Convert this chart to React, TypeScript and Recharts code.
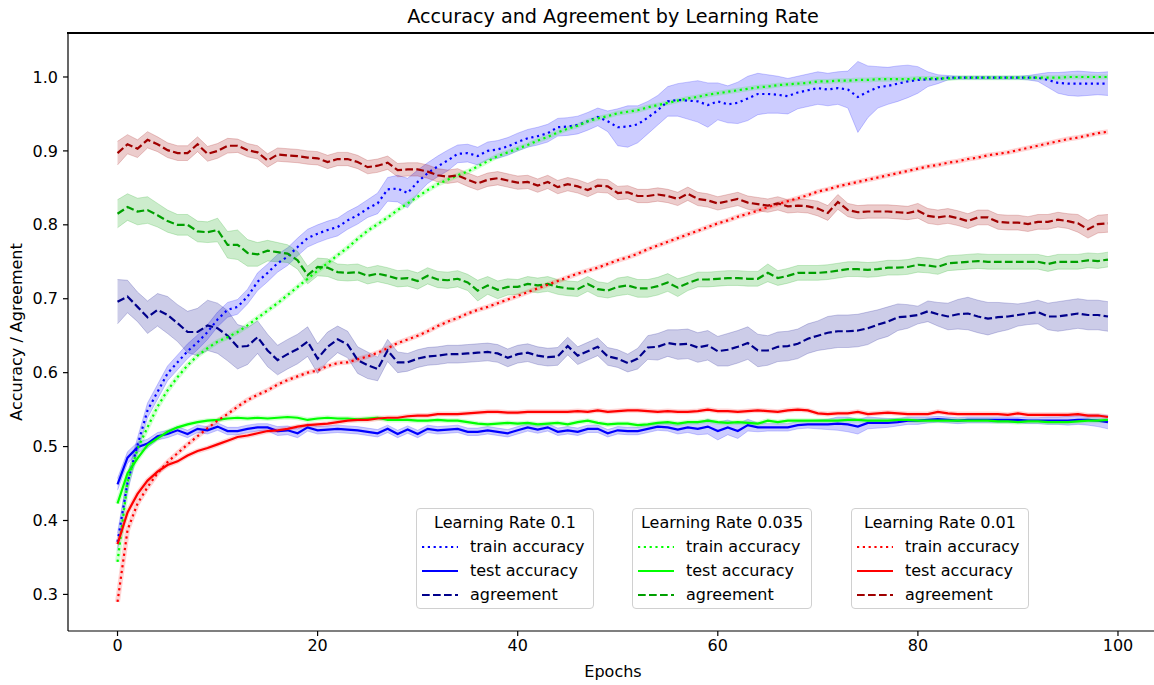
import React from "react";
import { ComposedChart, Line, Area, XAxis, YAxis } from "recharts";

// epochs 0..99 (x categories)
const epochs = Array.from({ length: 100 }, (_, i) => i);
const xTicks = [0, 20, 40, 60, 80, 100];
const yTicks = [0.3, 0.4, 0.5, 0.6, 0.7, 0.8, 0.9, 1.0];

// ---- Learning rate 0.1 ----
const lr01Train = [
  0.371, 0.451, 0.502, 0.549, 0.574, 0.599, 0.614, 0.629, 0.641, 0.655,
  0.672, 0.685, 0.689, 0.703, 0.723, 0.735, 0.748, 0.757, 0.770, 0.782,
  0.788, 0.793, 0.797, 0.806, 0.813, 0.822, 0.829, 0.848, 0.849, 0.843,
  0.858, 0.870, 0.879, 0.887, 0.896, 0.897, 0.893, 0.900, 0.902, 0.906,
  0.912, 0.917, 0.920, 0.924, 0.932, 0.933, 0.935, 0.940, 0.946, 0.940,
  0.932, 0.933, 0.936, 0.945, 0.955, 0.967, 0.969, 0.968, 0.967, 0.962,
  0.967, 0.963, 0.965, 0.971, 0.977, 0.977, 0.976, 0.974, 0.979, 0.982,
  0.985, 0.983, 0.985, 0.983, 0.973, 0.980, 0.986, 0.988, 0.991, 0.994,
  0.996, 0.997, 0.997, 0.999, 0.999, 0.999, 0.999, 0.999, 0.999, 0.999,
  0.999, 0.999, 0.999, 0.996, 0.992, 0.991, 0.991, 0.991, 0.991, 0.991,
];
const lr01TrainSpread = [
  0.012, 0.012, 0.010, 0.010, 0.010, 0.010, 0.010, 0.010, 0.010, 0.010,
  0.010, 0.010, 0.010, 0.010, 0.012, 0.012, 0.012, 0.012, 0.012, 0.012,
  0.012, 0.012, 0.012, 0.012, 0.012, 0.012, 0.014, 0.016, 0.018, 0.020,
  0.016, 0.014, 0.014, 0.014, 0.012, 0.012, 0.012, 0.012, 0.012, 0.012,
  0.012, 0.012, 0.012, 0.012, 0.012, 0.012, 0.012, 0.012, 0.012, 0.014,
  0.025, 0.028, 0.025, 0.022, 0.020, 0.020, 0.022, 0.025, 0.028, 0.030,
  0.025, 0.025, 0.028, 0.030, 0.028, 0.026, 0.025, 0.024, 0.022, 0.022,
  0.022, 0.022, 0.022, 0.025, 0.048, 0.035, 0.028, 0.025, 0.024, 0.022,
  0.018, 0.010, 0.006, 0.003, 0.002, 0.002, 0.002, 0.002, 0.002, 0.002,
  0.002, 0.003, 0.005, 0.010, 0.014, 0.016, 0.017, 0.016, 0.015, 0.016,
];
const lr01Test = [
  0.449, 0.485, 0.499, 0.504, 0.514, 0.517, 0.522, 0.517, 0.524, 0.522,
  0.527, 0.521, 0.521, 0.524, 0.526, 0.526, 0.521, 0.522, 0.518, 0.526,
  0.522, 0.523, 0.524, 0.523, 0.522, 0.520, 0.518, 0.524, 0.517, 0.523,
  0.517, 0.524, 0.522, 0.523, 0.524, 0.520, 0.520, 0.522, 0.520, 0.518,
  0.522, 0.526, 0.523, 0.526, 0.520, 0.522, 0.520, 0.524, 0.524, 0.518,
  0.522, 0.521, 0.521, 0.524, 0.527, 0.526, 0.523, 0.526, 0.524, 0.527,
  0.521, 0.526, 0.521, 0.529, 0.526, 0.526, 0.526, 0.526, 0.529, 0.530,
  0.530, 0.530, 0.531, 0.530, 0.527, 0.532, 0.532, 0.532, 0.533, 0.535,
  0.535, 0.536, 0.537, 0.536, 0.535, 0.536, 0.536, 0.536, 0.536, 0.536,
  0.536, 0.535, 0.535, 0.535, 0.535, 0.535, 0.536, 0.536, 0.535, 0.533,
];
const lr01TestSpread = [
  0.008, 0.008, 0.007, 0.006, 0.005, 0.005, 0.005, 0.005, 0.005, 0.005,
  0.005, 0.005, 0.005, 0.005, 0.005, 0.005, 0.006, 0.006, 0.006, 0.005,
  0.005, 0.005, 0.005, 0.005, 0.005, 0.005, 0.005, 0.005, 0.005, 0.005,
  0.005, 0.005, 0.005, 0.005, 0.005, 0.005, 0.005, 0.005, 0.005, 0.005,
  0.005, 0.005, 0.005, 0.005, 0.005, 0.005, 0.005, 0.005, 0.005, 0.005,
  0.005, 0.005, 0.005, 0.005, 0.005, 0.005, 0.006, 0.007, 0.008, 0.010,
  0.012, 0.010, 0.010, 0.008, 0.006, 0.005, 0.005, 0.005, 0.005, 0.005,
  0.006, 0.007, 0.009, 0.010, 0.010, 0.008, 0.007, 0.006, 0.005, 0.005,
  0.005, 0.004, 0.004, 0.004, 0.004, 0.004, 0.004, 0.004, 0.004, 0.004,
  0.004, 0.004, 0.004, 0.005, 0.005, 0.006, 0.006, 0.007, 0.008, 0.009,
];
const lr01Agree = [
  0.696, 0.703, 0.689, 0.675, 0.685, 0.678, 0.667, 0.655, 0.655, 0.664,
  0.660, 0.650, 0.635, 0.636, 0.648, 0.630, 0.617, 0.625, 0.632, 0.642,
  0.619, 0.635, 0.645, 0.638, 0.617, 0.610, 0.605, 0.630, 0.614, 0.614,
  0.619, 0.622, 0.623, 0.625, 0.625, 0.626, 0.627, 0.628, 0.626, 0.620,
  0.625, 0.627, 0.623, 0.621, 0.622, 0.636, 0.623, 0.629, 0.635, 0.622,
  0.619, 0.613, 0.619, 0.634, 0.635, 0.640, 0.638, 0.639, 0.634, 0.637,
  0.629, 0.631, 0.635, 0.640, 0.630, 0.630, 0.635, 0.636, 0.639, 0.646,
  0.650, 0.654, 0.656, 0.656, 0.657, 0.660, 0.665, 0.669, 0.675, 0.676,
  0.678, 0.683, 0.679, 0.676, 0.679, 0.680, 0.676, 0.673, 0.675, 0.676,
  0.678, 0.680, 0.682, 0.676, 0.676, 0.678, 0.680, 0.678, 0.678, 0.676,
];
const lr01AgreeSpread = [
  0.030, 0.022, 0.020, 0.022, 0.022, 0.025, 0.025, 0.028, 0.032, 0.034,
  0.034, 0.034, 0.030, 0.025, 0.022, 0.022, 0.020, 0.020, 0.020, 0.020,
  0.020, 0.020, 0.018, 0.018, 0.018, 0.018, 0.016, 0.015, 0.014, 0.012,
  0.012, 0.012, 0.012, 0.012, 0.012, 0.012, 0.012, 0.012, 0.012, 0.012,
  0.012, 0.012, 0.012, 0.012, 0.012, 0.012, 0.012, 0.012, 0.012, 0.012,
  0.012, 0.012, 0.014, 0.016, 0.018, 0.018, 0.020, 0.020, 0.020, 0.020,
  0.020, 0.022, 0.022, 0.022, 0.022, 0.020, 0.020, 0.020, 0.020, 0.020,
  0.020, 0.022, 0.022, 0.022, 0.022, 0.022, 0.020, 0.020, 0.018, 0.016,
  0.012, 0.014, 0.016, 0.018, 0.020, 0.022, 0.022, 0.022, 0.020, 0.018,
  0.015, 0.015, 0.016, 0.018, 0.020, 0.020, 0.020, 0.020, 0.020, 0.020,
];

// ---- Learning rate 0.035 ----
const lr035Train = [
  0.344, 0.452, 0.497, 0.526, 0.554, 0.576, 0.594, 0.610, 0.623, 0.633,
  0.642, 0.648, 0.655, 0.664, 0.674, 0.684, 0.694, 0.705, 0.716, 0.727,
  0.738, 0.748, 0.759, 0.769, 0.781, 0.792, 0.801, 0.810, 0.820, 0.829,
  0.838, 0.847, 0.855, 0.861, 0.867, 0.872, 0.879, 0.886, 0.893, 0.898,
  0.903, 0.908, 0.914, 0.919, 0.925, 0.930, 0.934, 0.940, 0.944, 0.947,
  0.951, 0.953, 0.955, 0.959, 0.962, 0.965, 0.968, 0.971, 0.973, 0.976,
  0.978, 0.980, 0.982, 0.984, 0.986, 0.987, 0.989, 0.990, 0.991, 0.992,
  0.994, 0.994, 0.995, 0.995, 0.996, 0.996, 0.997, 0.997, 0.997, 0.997,
  0.998, 0.998, 0.998, 0.998, 0.999, 0.999, 0.999, 0.999, 0.999, 0.999,
  0.999, 0.999, 0.999, 0.999, 0.999, 1.000, 1.000, 1.000, 1.000, 1.000,
];
const lr035Test = [
  0.423, 0.464, 0.484, 0.502, 0.511, 0.520, 0.526, 0.530, 0.533, 0.535,
  0.536, 0.538, 0.539, 0.538, 0.539, 0.538, 0.539, 0.540, 0.539, 0.536,
  0.538, 0.539, 0.538, 0.538, 0.537, 0.538, 0.539, 0.536, 0.536, 0.536,
  0.535, 0.535, 0.536, 0.535, 0.535, 0.533, 0.531, 0.530, 0.531, 0.532,
  0.531, 0.532, 0.530, 0.531, 0.532, 0.530, 0.533, 0.535, 0.532, 0.530,
  0.531, 0.531, 0.529, 0.530, 0.532, 0.533, 0.531, 0.533, 0.533, 0.535,
  0.533, 0.532, 0.533, 0.532, 0.531, 0.535, 0.533, 0.535, 0.535, 0.535,
  0.535, 0.535, 0.535, 0.536, 0.536, 0.535, 0.535, 0.535, 0.536, 0.536,
  0.535, 0.535, 0.535, 0.535, 0.535, 0.535, 0.535, 0.535, 0.534, 0.534,
  0.533, 0.534, 0.534, 0.533, 0.533, 0.533, 0.534, 0.535, 0.535, 0.536,
];
const lr035Agree = [
  0.815, 0.824, 0.818, 0.820, 0.813, 0.805, 0.800, 0.800, 0.791, 0.790,
  0.793, 0.773, 0.773, 0.762, 0.760, 0.765, 0.763, 0.761, 0.752, 0.732,
  0.743, 0.742, 0.736, 0.735, 0.736, 0.731, 0.734, 0.731, 0.727, 0.728,
  0.724, 0.731, 0.726, 0.725, 0.727, 0.722, 0.711, 0.718, 0.712, 0.716,
  0.716, 0.720, 0.718, 0.720, 0.716, 0.714, 0.713, 0.720, 0.713, 0.711,
  0.716, 0.718, 0.714, 0.714, 0.717, 0.722, 0.715, 0.721, 0.726, 0.726,
  0.727, 0.728, 0.728, 0.727, 0.727, 0.735, 0.728, 0.731, 0.735, 0.735,
  0.735, 0.736, 0.738, 0.740, 0.740, 0.739, 0.740, 0.742, 0.742, 0.743,
  0.746, 0.745, 0.743, 0.748, 0.749, 0.750, 0.751, 0.750, 0.750, 0.750,
  0.750, 0.750, 0.750, 0.747, 0.750, 0.750, 0.750, 0.752, 0.751, 0.753,
];
const lr035AgreeSpread = [
  0.019, 0.018, 0.018, 0.018, 0.016, 0.015, 0.014, 0.014, 0.014, 0.014,
  0.016, 0.018, 0.020, 0.018, 0.016, 0.014, 0.013, 0.012, 0.012, 0.012,
  0.012, 0.012, 0.011, 0.011, 0.011, 0.011, 0.011, 0.011, 0.011, 0.011,
  0.011, 0.011, 0.011, 0.011, 0.011, 0.011, 0.014, 0.012, 0.012, 0.011,
  0.010, 0.010, 0.010, 0.010, 0.010, 0.010, 0.010, 0.010, 0.010, 0.010,
  0.012, 0.012, 0.012, 0.012, 0.012, 0.012, 0.012, 0.010, 0.010, 0.010,
  0.010, 0.010, 0.010, 0.010, 0.010, 0.012, 0.010, 0.010, 0.010, 0.010,
  0.010, 0.010, 0.010, 0.010, 0.010, 0.010, 0.010, 0.010, 0.010, 0.010,
  0.010, 0.010, 0.010, 0.010, 0.010, 0.010, 0.010, 0.010, 0.010, 0.010,
  0.010, 0.010, 0.010, 0.010, 0.010, 0.010, 0.010, 0.010, 0.010, 0.010,
];

// ---- Learning rate 0.01 ----
const lr001Train = [
  0.290, 0.387, 0.423, 0.445, 0.464, 0.479, 0.491, 0.503, 0.514, 0.525,
  0.535, 0.544, 0.554, 0.563, 0.570, 0.576, 0.584, 0.590, 0.595, 0.600,
  0.603, 0.609, 0.613, 0.614, 0.618, 0.622, 0.627, 0.633, 0.640, 0.645,
  0.650, 0.656, 0.663, 0.669, 0.674, 0.680, 0.685, 0.689, 0.694, 0.699,
  0.704, 0.709, 0.714, 0.719, 0.724, 0.729, 0.734, 0.738, 0.742, 0.747,
  0.752, 0.756, 0.761, 0.767, 0.772, 0.777, 0.782, 0.787, 0.792, 0.797,
  0.802, 0.806, 0.811, 0.815, 0.819, 0.824, 0.828, 0.832, 0.836, 0.840,
  0.845, 0.848, 0.852, 0.855, 0.858, 0.861, 0.864, 0.867, 0.870, 0.873,
  0.876, 0.879, 0.881, 0.884, 0.886, 0.889, 0.891, 0.894, 0.896, 0.898,
  0.901, 0.904, 0.907, 0.910, 0.913, 0.916, 0.918, 0.921, 0.924, 0.926,
];
const lr001Test = [
  0.368, 0.411, 0.436, 0.454, 0.466, 0.475, 0.480, 0.488, 0.494, 0.498,
  0.503, 0.508, 0.513, 0.515, 0.518, 0.521, 0.522, 0.524, 0.527, 0.529,
  0.530, 0.531, 0.533, 0.535, 0.536, 0.536, 0.538, 0.539, 0.539, 0.541,
  0.542, 0.542, 0.544, 0.544, 0.544, 0.545, 0.546, 0.547, 0.547, 0.546,
  0.546, 0.547, 0.547, 0.547, 0.547, 0.547, 0.548, 0.547, 0.549, 0.547,
  0.548, 0.549, 0.549, 0.548, 0.547, 0.548, 0.547, 0.547, 0.548, 0.550,
  0.548, 0.548, 0.547, 0.548, 0.549, 0.548, 0.547, 0.549, 0.550, 0.549,
  0.545, 0.544, 0.545, 0.545, 0.547, 0.544, 0.545, 0.546, 0.545, 0.544,
  0.544, 0.544, 0.547, 0.545, 0.544, 0.544, 0.544, 0.544, 0.544, 0.543,
  0.545, 0.543, 0.543, 0.543, 0.543, 0.543, 0.544, 0.542, 0.542, 0.540,
];
const lr001Agree = [
  0.897, 0.909, 0.903, 0.915, 0.909, 0.901, 0.897, 0.897, 0.909, 0.896,
  0.900, 0.907, 0.907, 0.901, 0.898, 0.887, 0.895, 0.894, 0.893, 0.891,
  0.890, 0.885, 0.889, 0.889, 0.885, 0.878, 0.880, 0.884, 0.874, 0.875,
  0.875, 0.872, 0.867, 0.865, 0.867, 0.861, 0.856, 0.861, 0.863, 0.860,
  0.857, 0.858, 0.853, 0.858, 0.851, 0.855, 0.852, 0.847, 0.853, 0.852,
  0.843, 0.844, 0.839, 0.839, 0.841, 0.839, 0.835, 0.842, 0.835, 0.833,
  0.829, 0.832, 0.835, 0.830, 0.828, 0.826, 0.829, 0.825, 0.826, 0.825,
  0.822, 0.816, 0.831, 0.820, 0.817, 0.818, 0.818, 0.818, 0.817, 0.816,
  0.819, 0.812, 0.810, 0.812, 0.809, 0.805, 0.810, 0.810, 0.804, 0.803,
  0.803, 0.801, 0.804, 0.804, 0.807, 0.805, 0.802, 0.794, 0.801, 0.802,
];
const lr001AgreeSpread = [
  0.016, 0.013, 0.012, 0.011, 0.010, 0.010, 0.010, 0.010, 0.010, 0.010,
  0.010, 0.010, 0.009, 0.009, 0.009, 0.009, 0.009, 0.009, 0.009, 0.009,
  0.009, 0.009, 0.009, 0.009, 0.009, 0.009, 0.009, 0.009, 0.009, 0.009,
  0.009, 0.009, 0.009, 0.009, 0.009, 0.009, 0.009, 0.009, 0.009, 0.009,
  0.009, 0.009, 0.009, 0.009, 0.009, 0.009, 0.009, 0.009, 0.009, 0.009,
  0.009, 0.009, 0.009, 0.009, 0.009, 0.009, 0.009, 0.009, 0.009, 0.009,
  0.009, 0.009, 0.009, 0.009, 0.009, 0.009, 0.009, 0.009, 0.009, 0.009,
  0.010, 0.010, 0.010, 0.009, 0.009, 0.009, 0.009, 0.009, 0.009, 0.009,
  0.010, 0.010, 0.010, 0.010, 0.010, 0.010, 0.010, 0.010, 0.010, 0.010,
  0.010, 0.010, 0.010, 0.010, 0.010, 0.010, 0.012, 0.012, 0.012, 0.012,
];

const legendTitles = ["Learning Rate 0.1", "Learning Rate 0.035", "Learning Rate 0.01"];
const metricNames = ["train accuracy", "test accuracy", "agreement"];

const range = (v: number[], s: number[], i: number) => [v[i] - s[i], v[i] + s[i]];

const rows = epochs.map((epoch, i) => ({
  epoch,
  lr01Train: lr01Train[i],
  lr01Test: lr01Test[i],
  lr01Agree: lr01Agree[i],
  lr035Train: lr035Train[i],
  lr035Test: lr035Test[i],
  lr035Agree: lr035Agree[i],
  lr001Train: lr001Train[i],
  lr001Test: lr001Test[i],
  lr001Agree: lr001Agree[i],
  lr01TrainBand: range(lr01Train, lr01TrainSpread, i),
  lr01TestBand: range(lr01Test, lr01TestSpread, i),
  lr01AgreeBand: range(lr01Agree, lr01AgreeSpread, i),
  lr035AgreeBand: range(lr035Agree, lr035AgreeSpread, i),
  lr001AgreeBand: range(lr001Agree, lr001AgreeSpread, i),
}));

const BLUE = "#0000ff";
const DARKBLUE = "#00008b";
const LIME = "#00ff00";
const GREEN = "#00a000";
const RED = "#ff0000";
const DARKRED = "#a00000";

const DOT = "2.2 3.6";
const DASH = "7.7 3.3";

const bands = [
  { key: "lr01TrainBand", color: BLUE },
  { key: "lr01TestBand", color: BLUE },
  { key: "lr01AgreeBand", color: DARKBLUE },
  { key: "lr035AgreeBand", color: GREEN },
  { key: "lr001AgreeBand", color: DARKRED },
];

// thin std bands drawn as a soft halo under the line
const halos = [
  { key: "lr035Train", color: LIME },
  { key: "lr035Test", color: LIME },
  { key: "lr001Train", color: RED },
  { key: "lr001Test", color: RED },
];

const groups = [
  [
    { key: "lr01Train", color: BLUE, dash: DOT },
    { key: "lr01Test", color: BLUE, dash: undefined },
    { key: "lr01Agree", color: DARKBLUE, dash: DASH },
  ],
  [
    { key: "lr035Train", color: LIME, dash: DOT },
    { key: "lr035Test", color: LIME, dash: undefined },
    { key: "lr035Agree", color: GREEN, dash: DASH },
  ],
  [
    { key: "lr001Train", color: RED, dash: DOT },
    { key: "lr001Test", color: RED, dash: undefined },
    { key: "lr001Agree", color: DARKRED, dash: DASH },
  ],
];

const FONT = "'DejaVu Sans', sans-serif";
const tickStyle = { fontSize: 16, fill: "#000", fontFamily: FONT };

function LegendBox({ title, items, left, width }: any) {
  return (
    <div
      style={{
        position: "absolute",
        left,
        top: 508,
        width,
        height: 101,
        boxSizing: "border-box",
        border: "1px solid #d0d0d0",
        borderRadius: 4,
        background: "rgba(255,255,255,0.8)",
        fontSize: 16,
      }}
    >
      <div style={{ position: "absolute", top: 4, left: 0, width: "100%", textAlign: "center", lineHeight: "20px" }}>{title}</div>
      {items.map((it: any, i: number) => (
        <div key={it.key} style={{ position: "absolute", top: 28 + i * 24, left: 5, height: 20, display: "flex", alignItems: "center" }}>
          <svg width={36} height={10} style={{ display: "block" }}>
            <line x1={0} y1={5} x2={36} y2={5} stroke={it.color} strokeWidth={2.2} strokeDasharray={it.dash} />
          </svg>
          <span style={{ marginLeft: 12, lineHeight: "20px" }}>{metricNames[i]}</span>
        </div>
      ))}
    </div>
  );
}

export default function App() {
  const legendPos = [
    { left: 416, width: 178 },
    { left: 632, width: 180 },
    { left: 851, width: 178 },
  ];
  return (
    <div
      style={{
        position: "fixed",
        left: 0,
        top: 0,
        width: 1154,
        height: 685,
        overflow: "hidden",
        background: "#fff",
        fontFamily: FONT,
        color: "#000",
      }}
    >
      <ComposedChart width={1160} height={685} data={rows} margin={{ top: 33, right: 2.5, bottom: 14, left: 8 }}>
        <XAxis
          dataKey="epoch"
          type="number"
          domain={[-4.95, 103.95]}
          allowDataOverflow
          ticks={xTicks}
          height={40}
          stroke="#000"
          strokeWidth={1.2}
          tickSize={5}
          tickMargin={4}
          tick={tickStyle}
        />
        <YAxis
          type="number"
          domain={[0.2505, 1.0595]}
          allowDataOverflow
          ticks={yTicks}
          width={60}
          stroke="#000"
          strokeWidth={1.2}
          tickSize={5}
          tickMargin={5}
          tick={tickStyle}
          tickFormatter={(v: number) => v.toFixed(1)}
        />
        {bands.map((b) => (
          <Area
            key={b.key}
            dataKey={b.key}
            type="linear"
            stroke={b.color}
            strokeOpacity={0.2}
            strokeWidth={1}
            fill={b.color}
            fillOpacity={0.2}
            dot={false}
            activeDot={false}
            isAnimationActive={false}
          />
        ))}
        {halos.map((h) => (
          <Line
            key={h.key + "Halo"}
            dataKey={h.key}
            type="linear"
            stroke={h.color}
            strokeOpacity={0.17}
            strokeWidth={5}
            dot={false}
            activeDot={false}
            isAnimationActive={false}
          />
        ))}
        {groups.flat().map((s) => (
          <Line
            key={s.key}
            dataKey={s.key}
            type="linear"
            stroke={s.color}
            strokeWidth={2.2}
            strokeDasharray={s.dash}
            strokeLinecap="butt"
            dot={false}
            activeDot={false}
            isAnimationActive={false}
          />
        ))}
      </ComposedChart>

      {/* top spine (the right spine falls outside the picture) */}
      <div style={{ position: "absolute", left: 67.4, top: 32.4, width: 1100, height: 1.2, background: "#000" }} />

      <div style={{ position: "absolute", left: 0, width: 1226, top: 5, textAlign: "center", fontSize: 19.2, lineHeight: "24px" }}>
        Accuracy and Agreement by Learning Rate
      </div>
      <div style={{ position: "absolute", left: 0, width: 1226, top: 661, textAlign: "center", fontSize: 16, lineHeight: "22px" }}>
        Epochs
      </div>
      <div
        style={{
          position: "absolute",
          left: 17,
          top: 332,
          transform: "translate(-50%, -50%) rotate(-90deg)",
          whiteSpace: "nowrap",
          fontSize: 16,
          lineHeight: "22px",
        }}
      >
        Accuracy / Agreement
      </div>

      {legendTitles.map((t, g) => (
        <LegendBox key={t} title={t} items={groups[g]} left={legendPos[g].left} width={legendPos[g].width} />
      ))}
    </div>
  );
}
